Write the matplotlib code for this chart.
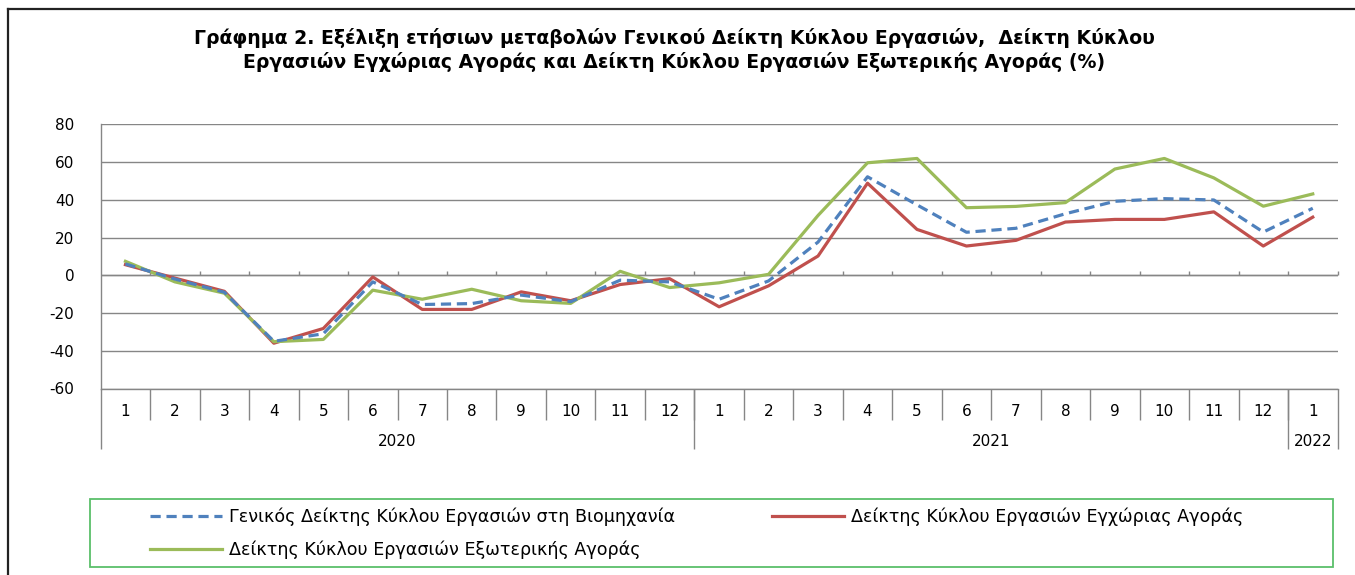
import matplotlib
matplotlib.use("Agg")
import matplotlib.pyplot as plt
import matplotlib.transforms as mtransforms
from matplotlib.lines import Line2D
from matplotlib.patches import Rectangle

# ---------------- data ----------------
months = ["1", "2", "3", "4", "5", "6", "7", "8", "9", "10", "11", "12",
          "1", "2", "3", "4", "5", "6", "7", "8", "9", "10", "11", "12", "1"]
years = ["2020", "2021", "2022"]
year_counts = [12, 12, 1]

general = [6.0, -2.0, -9.0, -35.0, -31.0, -3.5, -15.5, -15.0, -10.5, -14.0, -2.6, -3.5,
           -12.7, -3.0, 17.6, 52.2, 37.3, 22.8, 24.9, 32.6, 39.2, 40.6, 39.9, 22.9, 35.5]
domestic = [5.6, -1.5, -8.5, -36.0, -28.2, -0.9, -18.1, -18.1, -8.8, -13.5, -4.9, -1.8,
            -16.7, -5.6, 10.2, 48.8, 24.3, 15.5, 18.5, 28.2, 29.6, 29.6, 33.6, 15.5, 30.8]
foreign = [7.4, -3.5, -9.5, -35.2, -34.0, -7.9, -12.7, -7.4, -13.5, -14.9, 2.1, -6.5,
           -4.0, 0.5, 31.7, 59.6, 61.9, 35.8, 36.5, 38.5, 56.3, 61.9, 51.6, 36.6, 43.1]

labels = ["Γενικός Δείκτης Κύκλου Εργασιών στη Βιομηχανία",
          "Δείκτης Κύκλου Εργασιών Εγχώριας Αγοράς",
          "Δείκτης Κύκλου Εργασιών Εξωτερικής Αγοράς"]
title = ("Γράφημα 2. Εξέλιξη ετήσιων μεταβολών Γενικού Δείκτη Κύκλου Εργασιών,  Δείκτη Κύκλου\n"
         "Εργασιών Εγχώριας Αγοράς και Δείκτη Κύκλου Εργασιών Εξωτερικής Αγοράς (%)")
yticks = [-60, -40, -20, 0, 20, 40, 60, 80]

# ---------------- style ----------------
C_BLUE = "#4F81BD"
C_RED = "#C0504D"
C_GREEN = "#9BBB59"
GRID = "#868686"

plt.rcParams["font.family"] = ["DejaVu Sans"]

W, H = 1355, 575
fig = plt.figure(figsize=(W / 100, H / 100), dpi=100)
L, R, T, B = 100.7, 1337.5, 124.3, 388.5
ax = fig.add_axes([L / W, 1 - B / H, (R - L) / W, (B - T) / H])

x = list(range(len(months)))
lw = 2.3
ax.plot(x, general, color=C_BLUE, lw=lw, ls=(0, (3.2, 1.8)), zorder=4, label=labels[0])
ax.plot(x, domestic, color=C_RED, lw=lw, zorder=3, label=labels[1])
ax.plot(x, foreign, color=C_GREEN, lw=lw, zorder=3, label=labels[2])

ax.set_xlim(-0.5, len(months) - 0.5)
ax.set_ylim(-60, 80)
ax.set_yticks(yticks)
ax.set_yticklabels([str(v) for v in yticks], fontsize=11)
ax.tick_params(axis="y", length=0, pad=19)
ax.set_xticks([])
ax.grid(axis="y", color=GRID, lw=1.0)
ax.set_axisbelow(True)
for s in ["top", "right", "bottom"]:
    ax.spines[s].set_visible(False)
ax.spines["left"].set_color(GRID)
ax.spines["left"].set_linewidth(1.0)

# zero-line category axis with small ticks
trans_x = mtransforms.blended_transform_factory(ax.transData, ax.transAxes)
ax.axhline(0, color=GRID, lw=1.0, zorder=2)
bounds = [i - 0.5 for i in range(1, len(months) + 1)]
tick_len = 4.0 / (B - T)
zero_frac = (0 - (-60)) / (80 - (-60))
ax.vlines(bounds, zero_frac, zero_frac + tick_len, transform=trans_x,
          color=GRID, lw=1.0, clip_on=False)

# bottom category labels (months + years)
ax.plot([-0.5, len(months) - 0.5], [0, 0], transform=trans_x, color=GRID, lw=1.0, clip_on=False)
m_y = -(411 - B) / (B - T)
m_sep = -(420 - B) / (B - T)
y_y = -(441 - B) / (B - T)
y_sep = -(449 - B) / (B - T)
for i, m in enumerate(months):
    ax.text(i, m_y, m, transform=trans_x, ha="center", va="center", fontsize=11)
ax.vlines([i - 0.5 for i in range(1, len(months))], m_sep, 0, transform=trans_x,
          color=GRID, lw=1.0, clip_on=False)
start = 0
ysep_pos = [-0.5]
for yr, n in zip(years, year_counts):
    centre = start + (n - 1) / 2
    ax.text(centre, y_y, yr, transform=trans_x, ha="center", va="center", fontsize=11)
    start += n
    ysep_pos.append(start - 0.5)
ax.vlines(ysep_pos, y_sep, 0, transform=trans_x, color=GRID, lw=1.0, clip_on=False)

# title
fig.text(674 / W, 1 - 50 / H, title, ha="center", va="center", fontsize=13.6,
         fontweight="bold", linespacing=1.25)

# legend frame and legend
fig.add_artist(Rectangle((90 / W, 1 - 567 / H), (1333 - 90) / W, (567 - 499) / H,
                         transform=fig.transFigure, fill=False, edgecolor="#5BBF6A", lw=1.3))
handles = [Line2D([], [], color=C_BLUE, lw=lw, ls=(0, (3.2, 1.8))),
           Line2D([], [], color=C_GREEN, lw=lw),
           Line2D([], [], color=C_RED, lw=lw)]
fig.legend(handles, [labels[0], labels[2], labels[1]], ncol=2, frameon=False,
           loc="upper left", bbox_to_anchor=(141 / W, 1 - 499 / H),
           fontsize=12.6, handlelength=4.1, handletextpad=0.45, columnspacing=5.5,
           labelspacing=0.82, borderpad=0.0)

# outer chart border (left and top)
fig.add_artist(Line2D([8 / W, 8 / W], [0, 1 - 9 / H], transform=fig.transFigure, color="#222222", lw=1.6))
fig.add_artist(Line2D([8 / W, 1], [1 - 9 / H, 1 - 9 / H], transform=fig.transFigure, color="#222222", lw=1.6))

fig.savefig("out.png", dpi=100)
